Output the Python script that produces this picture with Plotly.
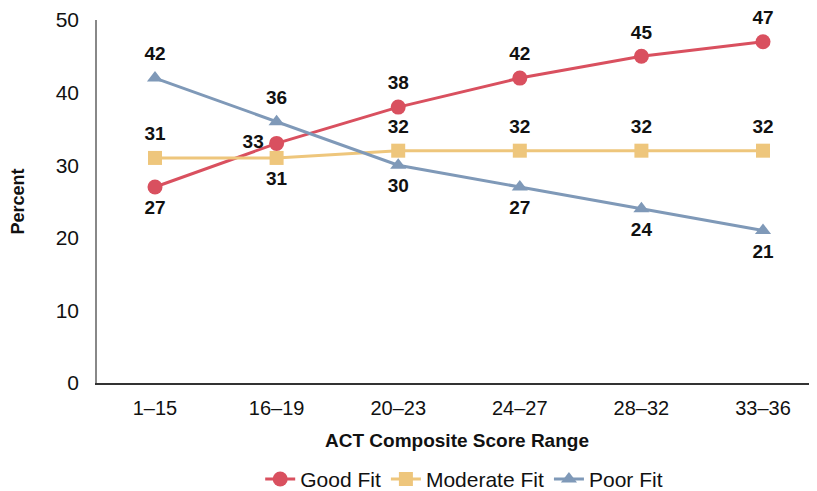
import plotly.graph_objects as go

categories = ["1–15", "16–19", "20–23", "24–27", "28–32", "33–36"]
good_fit = [27, 33, 38, 42, 45, 47]
moderate_fit = [31, 31, 32, 32, 32, 32]
poor_fit = [42, 36, 30, 27, 24, 21]

good_pos = ["bottom center", "middle left", "top center", "top center", "top center", "top center"]
moderate_pos = ["top center", "bottom center", "top center", "top center", "top center", "top center"]
poor_pos = ["top center", "top center", "bottom center", "bottom center", "bottom center", "bottom center"]

xi = list(range(len(categories)))
font = "Liberation Sans, Arial, sans-serif"

fig = go.Figure()
series = [
    ("Good Fit", good_fit, "#D9505F", "circle", 15, good_pos),
    ("Moderate Fit", moderate_fit, "#EEC67C", "square", 14, moderate_pos),
    ("Poor Fit", poor_fit, "#7F99B8", "triangle-up", 14, poor_pos),
]
for name, vals, col, sym, sz, pos in series:
    fig.add_trace(go.Scatter(
        x=xi, y=vals, name=name, mode="lines+markers",
        line=dict(color=col, width=3),
        marker=dict(color=col, symbol=sym, size=sz),
        cliponaxis=False,
    ))
for name, vals, col, sym, sz, pos in series:
    fig.add_trace(go.Scatter(
        x=xi, y=vals, name=name, mode="markers+text", showlegend=False,
        marker=dict(color=col, size=19, opacity=0),
        text=[str(v) for v in vals], textposition=pos,
        textfont=dict(family=font, size=19, color="#111111", weight="bold"),
        cliponaxis=False, hoverinfo="skip",
    ))

fig.update_layout(
    width=817, height=491,
    margin=dict(l=89, r=8, t=12, b=116),
    plot_bgcolor="white", paper_bgcolor="white",
    font=dict(family=font, size=20, color="#111111"),
    showlegend=True,
    legend=dict(orientation="h", x=0.51, xanchor="center",
                yref="container", y=0.04, yanchor="middle",
                font=dict(size=21), itemwidth=30),
    xaxis=dict(
        tickmode="array", tickvals=xi, ticktext=categories,
        range=[-0.477, 5.444], showgrid=False, zeroline=False,
        showline=True, linecolor="#333333", linewidth=1.5, ticks="",
        tickfont=dict(size=20), ticklabelstandoff=6, automargin=False,
        title=dict(text="<b>ACT Composite Score Range</b>", font=dict(size=19), standoff=16),
    ),
    yaxis=dict(
        range=[0, 50], dtick=10, showgrid=False, zeroline=False,
        showline=True, linecolor="#888888", linewidth=1.5, ticks="",
        tickfont=dict(size=21), ticklabelstandoff=12, automargin=False,
        title=dict(text="<b>Percent</b>", font=dict(size=18), standoff=35),
    ),
)

fig.write_html("out.html")
